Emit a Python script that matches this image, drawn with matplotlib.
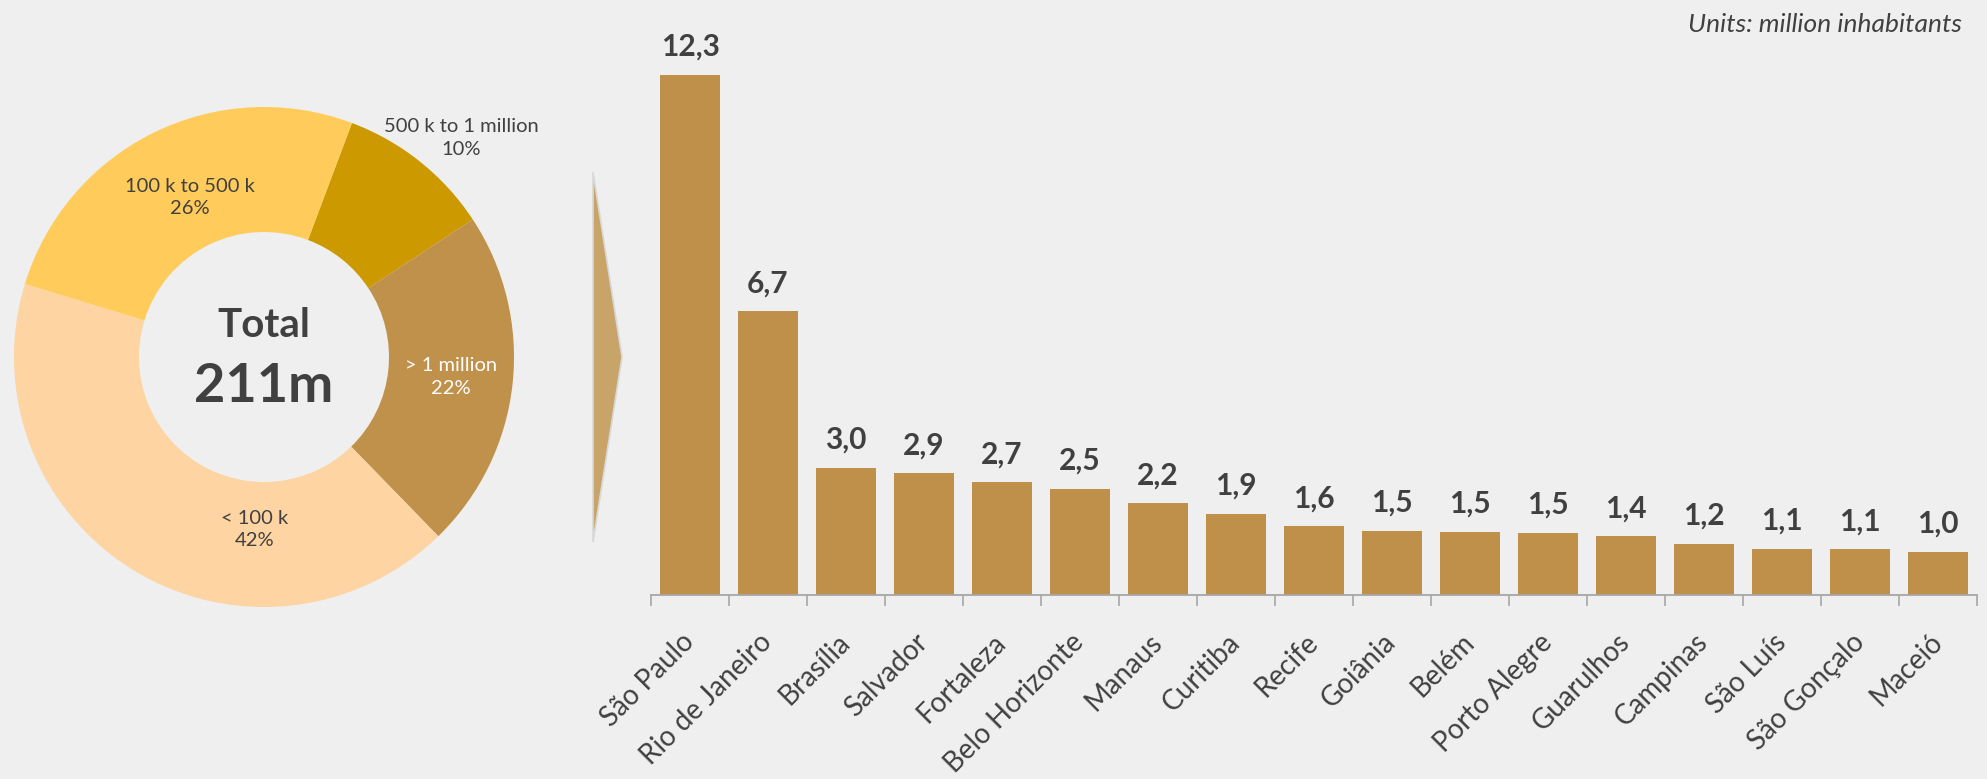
import matplotlib
matplotlib.use("Agg")
import matplotlib.pyplot as plt
from matplotlib.patches import Polygon
import numpy as np

plt.rcParams['font.family'] = ['Lato', 'DejaVu Sans']

# donut: share of population by city size (clockwise from the top-right slice)
size_groups = ['500 k to 1 million', '> 1 million', '< 100 k', '100 k to 500 k']
size_share = [10, 22, 42, 26]
size_colors = ['#CC9900', '#BF914A', '#FDD4A2', '#FFCC5B']
size_text_colors = ['#404040', 'white', '#404040', '#404040']
# label centres in units of the donut radius
size_label_xy = [(0.79, 0.876), (0.748, -0.08), (-0.038, -0.69), (-0.295, 0.638)]

# bars: largest cities, million inhabitants
cities = ['São Paulo', 'Rio de Janeiro', 'Brasília', 'Salvador', 'Fortaleza',
          'Belo Horizonte', 'Manaus', 'Curitiba', 'Recife', 'Goiânia', 'Belém',
          'Porto Alegre', 'Guarulhos', 'Campinas', 'São Luís', 'São Gonçalo', 'Maceió']
population = [12.33, 6.72, 3.01, 2.89, 2.67, 2.52, 2.18, 1.93, 1.63, 1.52, 1.50,
              1.48, 1.39, 1.21, 1.10, 1.08, 1.02]

bg = '#EFEFEF'
dark = '#404040'
W, H = 1987, 779

fig = plt.figure(figsize=(W / 100, H / 100), dpi=100, facecolor=bg)

# ---- donut ----
cx, cy, r = 264, 357, 250
half = 265
ax1 = fig.add_axes([(cx - half) / W, (H - cy - half) / H, 2 * half / W, 2 * half / H])
ax1.set_facecolor('none')
ax1.pie(size_share, colors=size_colors, startangle=69.4, counterclock=False,
        radius=1, wedgeprops=dict(width=0.5, edgecolor='none'))
for name, pct, (lx, ly), tc in zip(size_groups, size_share, size_label_xy, size_text_colors):
    ax1.text(lx, ly, f"{name}\n{pct}%", ha='center', va='center', fontsize=14.5,
             color=tc, linespacing=1.4)
ax1.text(0, 0.125, 'Total', ha='center', va='center', fontsize=29,
         fontweight='bold', color=dark)
ax1.text(0, -0.12, '211m', ha='center', va='center', fontsize=39,
         fontweight='bold', color=dark)
ax1.set_xlim(-half / r, half / r)
ax1.set_ylim(-half / r, half / r)
ax1.set_aspect('equal')
ax1.axis('off')

# ---- arrow ----
arrow = Polygon([(593 / W, 1 - 172 / H), (593 / W, 1 - 542 / H), (622 / W, 1 - 357 / H)],
                closed=True, transform=fig.transFigure, facecolor='#C8A468',
                edgecolor='#D8D8D8', linewidth=1.2)
fig.patches.append(arrow)

# ---- bars ----
left, right, base, top = 651, 1977, 595, 25
ax2 = fig.add_axes([left / W, (H - base) / H, (right - left) / W, (base - top) / H])
ax2.set_facecolor('none')
x = np.arange(len(cities))
bars = ax2.bar(x, population, width=0.77, color='#BF9049')
ax2.set_xlim(-0.5, len(cities) - 0.5)
ax2.set_ylim(0, (base - top) / 42.2)

for b, v in zip(bars, population):
    ax2.annotate(f"{v:.1f}".replace('.', ','), (b.get_x() + b.get_width() / 2, v),
                 xytext=(0, 10), textcoords='offset points', ha='center', va='bottom',
                 fontsize=21.5, fontweight='bold', color=dark)

for s in ['top', 'right', 'left']:
    ax2.spines[s].set_visible(False)
ax2.spines['bottom'].set_color('#A6A6A6')
ax2.spines['bottom'].set_linewidth(1.3)
ax2.set_yticks([])
ax2.set_xticks(x)
ax2.set_xticklabels(cities, rotation=45, ha='right', va='center',
                    rotation_mode='anchor', fontsize=20, color=dark)
ax2.tick_params(axis='x', which='major', length=0, pad=31)
ax2.set_xticks(np.arange(-0.5, len(cities)), minor=True)
ax2.tick_params(axis='x', which='minor', length=8, width=1.2, color='#A6A6A6')

fig.text(1962 / W, 1 - 25 / H, 'Units: million inhabitants', ha='right', va='center',
         fontsize=19, style='italic', color=dark)

fig.savefig('out.png', dpi=100, facecolor=bg)
